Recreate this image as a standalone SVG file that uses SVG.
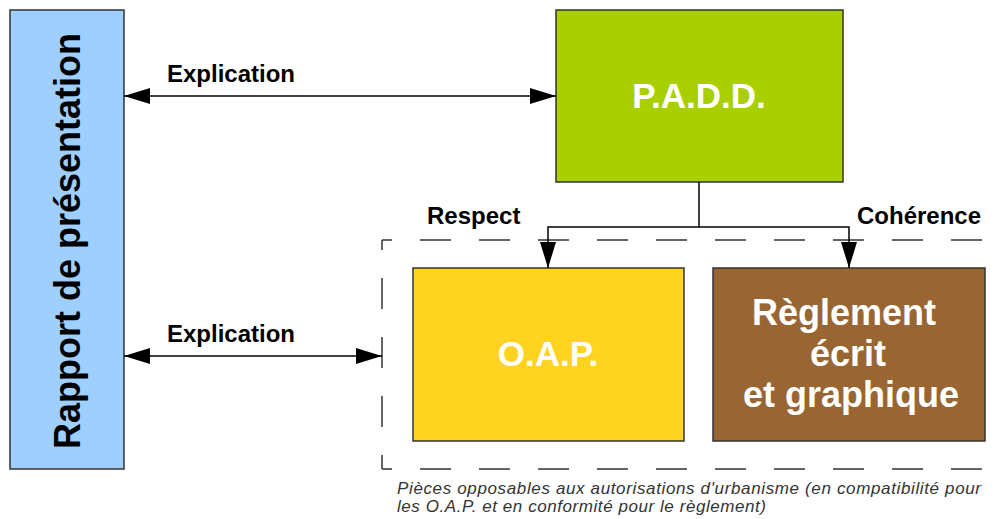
<svg xmlns="http://www.w3.org/2000/svg" width="1008" height="519" viewBox="0 0 1008 519">
  <defs>
    <marker id="ah" markerUnits="userSpaceOnUse" viewBox="0 0 26 16" refX="26" refY="8" markerWidth="26" markerHeight="16" orient="auto-start-reverse">
      <path d="M0,0 L26,8 L0,16 Z" fill="#000"/>
    </marker>
    <style>
      .box { stroke: #333; stroke-width: 1.5; }
      .wt { font-family: "Liberation Sans", Arial, sans-serif; font-weight: bold; font-size: 35px; fill: #fff; text-anchor: middle; }
      .rg { font-size: 36px; }
      .lbl { font-family: "Liberation Sans", Arial, sans-serif; font-weight: bold; font-size: 24px; fill: #000; }
      .conn { fill: none; stroke: #000; stroke-width: 1.5; }
      .dash { fill: none; stroke: #333; stroke-width: 1.5; stroke-dasharray: 10 28 31 28 31 28 31 28 31 28 31 28 31 28 31 28 31 28 31 28 31 28; }
      .note { font-family: "Liberation Sans", Arial, sans-serif; font-style: italic; font-size: 17px; fill: #333; }
    </style>
  </defs>
  <rect width="1008" height="519" fill="#fff"/>

  <g id="rapport">
    <rect class="box" x="10" y="10" width="114" height="459" fill="#9fcfff"/>
    <text transform="translate(80,241) rotate(-90)" font-family="Liberation Sans, Arial, sans-serif" font-weight="bold" font-size="36" fill="#000" text-anchor="middle">Rapport de présentation</text>
  </g>

  <g id="padd">
    <rect class="box" x="556" y="10" width="287" height="172" fill="#a9cf00"/>
    <text class="wt" x="699" y="108">P.A.D.D.</text>
  </g>

  <g id="perimetre">
    <path class="dash" d="M382,240 H1012"/>
    <path class="dash" d="M382,240 V469"/>
    <path class="dash" d="M382,469 H1012"/>
    <text class="note" x="397" y="494" textLength="584" lengthAdjust="spacing">Pièces opposables aux autorisations d'urbanisme (en compatibilité pour</text>
    <text class="note" x="397" y="512" textLength="369" lengthAdjust="spacing">les O.A.P. et en conformité pour le règlement)</text>
  </g>

  <g id="oap">
    <rect class="box" x="413" y="268" width="271" height="173" fill="#ffd320"/>
    <text class="wt" x="548" y="366">O.A.P.</text>
  </g>

  <g id="reglement">
    <rect class="box" x="713" y="268" width="272" height="173" fill="#996633"/>
    <text class="wt rg" x="844" y="325">Règlement</text>
    <text class="wt rg" x="848" y="366">écrit</text>
    <text class="wt rg" x="851" y="407">et graphique</text>
  </g>

  <g id="connectors">
    <line class="conn" x1="124" y1="96" x2="556" y2="96" marker-start="url(#ah)" marker-end="url(#ah)"/>
    <text class="lbl" x="167" y="82">Explication</text>
    <line class="conn" x1="124" y1="356" x2="382" y2="356" marker-start="url(#ah)" marker-end="url(#ah)"/>
    <text class="lbl" x="167" y="342">Explication</text>
    <path class="conn" d="M699,182 V227"/>
    <path class="conn" d="M548,268 V227 H849 V268" marker-start="url(#ah)" marker-end="url(#ah)"/>
    <text class="lbl" x="427" y="224">Respect</text>
    <text class="lbl" x="857" y="224">Cohérence</text>
  </g>
</svg>
